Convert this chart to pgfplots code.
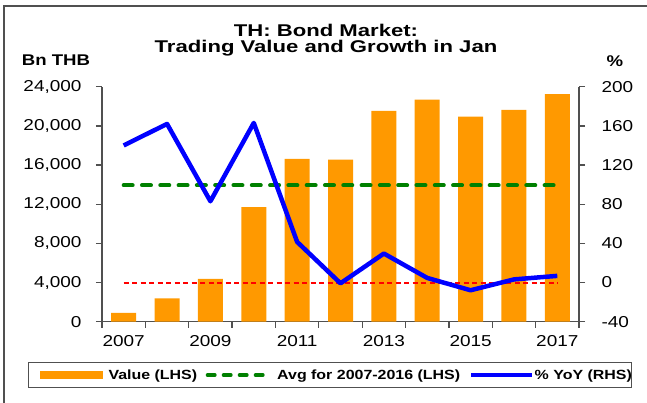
\documentclass[border=0pt]{standalone}
\usepackage{pgfplots}
\pgfplotsset{compat=1.18}
\usepackage{fontspec}
\setmainfont[FakeStretch=1.2]{Liberation Sans}
\newfontfamily\titlefont[FakeStretch=1.3]{Liberation Sans}
\definecolor{barorange}{RGB}{255,153,0}
\definecolor{avggreen}{RGB}{0,128,0}
\definecolor{yoyblue}{RGB}{0,0,255}
\definecolor{axisgray}{RGB}{80,80,80}
\newcommand\tickfont{\fontsize{15.8pt}{18pt}\selectfont}
\newcommand\legfont{\fontsize{13.3pt}{16pt}\selectfont\bfseries}

\pgfplotsset{common/.style={
  scale only axis, width=477pt, height=235pt,
  at={(102pt,81.3pt)}, anchor=south west,
  xmin=-0.5, xmax=10.5,
  tick align=outside, major tick length=6pt,
  axis line style={axisgray, line width=1.3pt},
  tick style={axisgray, line width=1.3pt},
  ticklabel style={font=\tickfont},
  /pgf/number format/assume math mode=true,
  /pgf/number format/1000 sep={,},
  scaled y ticks=false,
  clip=false,
}}

\begin{document}
\begin{tikzpicture}
\path[use as bounding box] (0pt,0pt) rectangle (647pt,403pt);
\draw[axisgray, line width=1.5pt] (4pt,0pt) -- (4pt,397pt) -- (647pt,397pt);
\node[anchor=base, font={\fontsize{17pt}{20pt}\selectfont\titlefont\bfseries}] at (326pt,366.3pt) {TH: Bond Market:};
\node[anchor=base, font={\fontsize{17pt}{20pt}\selectfont\titlefont\bfseries}] at (326pt,350.3pt) {Trading Value and Growth in Jan};
\node[anchor=base, font={\fontsize{15.5pt}{18pt}\selectfont\bfseries}] at (56pt,337.3pt) {Bn THB};
\node[anchor=base, font={\fontsize{15.5pt}{18pt}\selectfont\bfseries}] at (615pt,336.3pt) {\%};

\begin{axis}[common,
  axis y line*=left, axis x line*=bottom,
  ymin=0, ymax=24000, ytick={0,4000,...,24000},
  yticklabel style={xshift=-11pt},
  xticklabel style={yshift=-10pt},
  xtick={-0.5,0.5,...,10.5}, xticklabels={},
  extra x ticks={0,2,4,6,8,10},
  extra x tick labels={2007,2009,2011,2013,2015,2017},
  extra x tick style={major tick length=0pt},
]
\addplot[ybar, bar width=25pt, fill=barorange, draw=none] coordinates {
 (0,900) (1,2380) (2,4380) (3,11690) (4,16620) (5,16540)
 (6,21540) (7,22670) (8,20950) (9,21640) (10,23250)};
\addplot[avggreen, line width=4pt, line cap=round, dash pattern=on 9pt off 9.3pt] coordinates {(0,13930) (10,13930)};
\end{axis}

\begin{axis}[common,
  axis y line*=right, axis x line=none,
  ymin=-40, ymax=200, ytick={-40,0,...,200},
  yticklabel style={xshift=13pt},
  legend columns=3,
  legend style={at={(-0.1551,-0.1715)}, anchor=north west,
    draw=axisgray, line width=1pt, fill=white,
    inner xsep=0pt, inner ysep=7pt, font=\legfont,
    column sep=0pt, nodes={inner sep=0pt}},
  legend cell align=left,
]
\addlegendimage{legend image code/.code={\path (-11pt,0pt) (68pt,0pt); \fill[barorange] (0pt,-3.5pt) rectangle (62pt,3.5pt);}}
\addlegendentry{Value (LHS)}
\addlegendimage{legend image code/.code={\path (-8pt,0pt) (71pt,0pt); \draw[avggreen, line width=4pt, line cap=round, dash pattern=on 7pt off 9pt] (2pt,0pt) -- (63pt,0pt);}}
\addlegendentry{Avg for 2007-2016 (LHS)}
\addplot[red, line width=2pt, dash pattern=on 5pt off 3.5pt, forget plot] coordinates {(0,0) (10,0)};
\addplot[yoyblue, line width=4.5pt, line join=round,
  legend image code/.code={\path (-9pt,0pt) (61pt,0pt); \draw[yoyblue, line width=3.5pt] (0pt,0pt) -- (61pt,0pt);}] coordinates {
 (0,140) (1,162) (2,83) (3,163) (4,41.5) (5,-0.8)
 (6,29.6) (7,4.7) (8,-7.9) (9,3.2) (10,6.8)};
\addlegendentry{\% YoY (RHS)\hspace{2pt}}
\end{axis}
\end{tikzpicture}
\end{document}
